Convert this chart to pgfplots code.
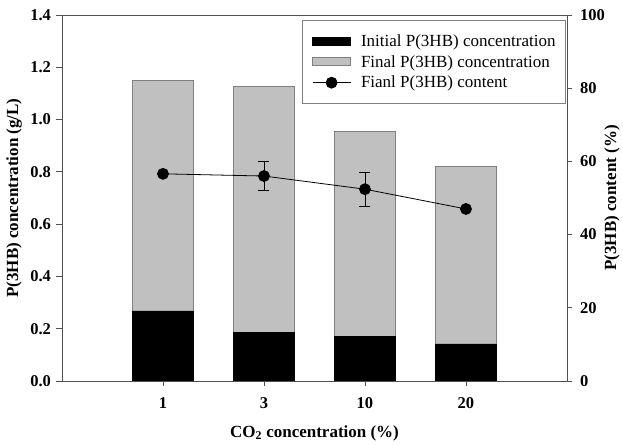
\documentclass[border=0pt]{standalone}
\usepackage{fontspec}
\setmainfont{Liberation Serif}
\usepackage{pgfplots}
\pgfplotsset{compat=1.18}
\definecolor{barg}{HTML}{C0C0C0}
\definecolor{axc}{HTML}{505050}
\pgfplotsset{
  common/.style={
    scale only axis, width=505pt, height=366pt,
    xmin=0, xmax=5,
    axis line style={line width=0.9pt, axc},
    tick style={line width=0.9pt, axc},
    tick align=outside, major tick length=5.5pt,
    ticklabel style={font=\fontsize{16.5}{19}\selectfont\bfseries},
    label style={font=\fontsize{17}{20}\selectfont\bfseries},
    /pgf/number format/assume math mode=true,
  },
  barlegend/.style={legend image code/.code={\draw[##1] (0pt,-4pt) rectangle (38pt,4pt);}},
  linelegend/.style={legend image code/.code={\draw[##1,mark=none] (0pt,0pt) -- (38pt,0pt); \draw[##1] plot coordinates {(19pt,0pt)};}},
}
\begin{document}
\begin{tikzpicture}
\begin{axis}[common, name=main,
  ymin=0, ymax=1.4, ytick={0,0.2,...,1.4},
  yticklabel style={xshift=-2pt, /pgf/number format/fixed, /pgf/number format/fixed zerofill, /pgf/number format/precision=1},
  xticklabel style={yshift=-8pt},
  ytick pos=left, xtick pos=bottom,
  xtick={1,2,3,4}, xticklabels={1,3,10,20},
  ylabel={P(3HB) concentration (g/L)},
  ylabel style={at={(axis description cs:0,0.5)}, yshift=48pt, anchor=center},
  xlabel={CO\textsubscript{2} concentration (\%)},
  xlabel style={at={(axis description cs:0.5,0)}, yshift=-52pt, anchor=center},
]
\addplot[ybar, bar width=0.6, bar shift=0pt, fill=barg, draw=gray, line width=0.7pt] coordinates {(1,1.151)(2,1.126)(3,0.956)(4,0.820)};
\addplot[ybar, bar width=0.6, bar shift=0pt, fill=black, draw=black, line width=0.7pt] coordinates {(1,0.268)(2,0.186)(3,0.172)(4,0.142)};
\end{axis}
\begin{axis}[common,
  axis x line=none, axis y line*=right,
  ymin=0, ymax=100, ytick={0,20,...,100},
  yticklabel style={xshift=4pt},
  ylabel={P(3HB) content (\%)},
  ylabel style={at={(axis description cs:1,0.5)}, yshift=-45pt, anchor=center},
  legend style={at={(1,1)}, anchor=north east, xshift=-1pt, yshift=-5pt, draw=gray, line width=0.9pt,
    font=\fontsize{17}{20}\selectfont, cells={anchor=west},
    inner xsep=10pt, inner ysep=14pt, row sep=7.5pt,
    nodes={inner sep=0pt},
    /tikz/every odd column/.append style={column sep=10pt}},
]
\addlegendimage{barlegend, fill=black, draw=black}
\addlegendentry{Initial P(3HB) concentration}
\addlegendimage{barlegend, fill=barg, draw=gray}
\addlegendentry{Final P(3HB) concentration}
\addplot[black, line width=0.8pt, mark=*, mark size=5.5pt, linelegend,
  error bars/.cd, y dir=both, y explicit,
  error bar style={line width=0.8pt},
  error mark options={rotate=90, mark size=5.5pt, line width=0.8pt}]
  table[x=x, y=y, y error=e] {
x y e
1 56.6 0
2 56.0 3.9
3 52.4 4.6
4 47.0 0
};
\addlegendentry{Fianl P(3HB) content}
\end{axis}
\path[use as bounding box] ([shift={(-62pt,-60pt)}]main.south west) rectangle ([shift={(56pt,15pt)}]main.north east);
\end{tikzpicture}
\end{document}
